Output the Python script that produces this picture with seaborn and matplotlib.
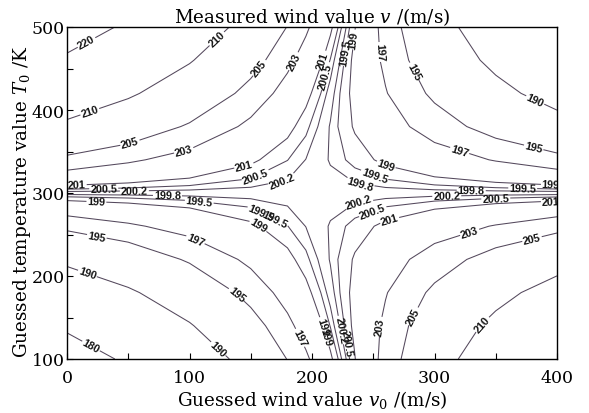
import numpy as np
import pandas as pd
import matplotlib
matplotlib.use("Agg")
import matplotlib.pyplot as plt
import seaborn as sns

# Guessed wind value v0 (m/s) -- grid columns
v0_grid = [0, 50, 100, 150, 180, 195, 215, 235, 260, 300, 350, 400]
# Guessed temperature T0 (K) -- grid rows
t0_grid = [100, 140, 180, 220, 260, 300, 340, 380, 420, 460, 500]

v_t100 = [175.82, 181.17, 186.52, 191.87, 195.08, 196.68, 198.82, 200.96, 203.64, 207.92, 213.27, 219.30]
v_t140 = [181.13, 185.41, 189.69, 193.97, 196.53, 197.82, 199.53, 201.24, 203.38, 206.81, 211.09, 215.37]
v_t180 = [186.20, 189.41, 192.62, 195.83, 197.75, 198.72, 200.00, 201.28, 202.89, 205.46, 208.67, 211.88]
v_t220 = [191.03, 193.17, 195.31, 197.45, 198.74, 199.38, 200.24, 201.09, 202.16, 203.87, 206.01, 208.15]
v_t260 = [195.63, 196.70, 197.77, 198.84, 199.49, 199.81, 200.24, 200.66, 201.20, 202.05, 203.12, 204.19]
v_t300 = [200.00, 200.00, 200.00, 200.00, 200.00, 200.00, 200.00, 200.00, 200.00, 200.00, 200.00, 200.00]
v_t340 = [204.37, 203.30, 202.23, 201.16, 200.51, 200.19, 199.76, 199.34, 198.80, 197.95, 196.88, 195.81]
v_t380 = [208.97, 206.83, 204.69, 202.55, 201.26, 200.62, 199.76, 198.91, 197.84, 196.13, 193.99, 191.85]
v_t420 = [213.80, 210.59, 207.38, 204.17, 202.25, 201.28, 200.00, 198.72, 197.11, 194.54, 191.33, 188.12]
v_t460 = [218.87, 214.59, 210.31, 206.03, 203.47, 202.18, 200.47, 198.76, 196.62, 193.19, 188.91, 184.63]
v_t500 = [224.18, 218.83, 213.48, 208.13, 204.92, 203.32, 201.18, 199.04, 196.36, 192.08, 186.73, 180.70]

levels = [180, 190, 195, 197, 199, 199.5, 199.8, 200.2, 200.5, 201, 203, 205, 210, 220]

x_ticks = [0, 100, 200, 300, 400]
y_ticks = [100, 200, 300, 400, 500]

# label anchor points (v0, T0)
label_points = [
    (19, 473), (126, 480), (20, 392), (156, 452), (53, 353), (186, 458), (96, 347),
    (211, 459), (145, 329), (155, 317), (175, 319),
    (8, 309.3), (30, 305.1), (55, 302.3), (82, 297.0), (108, 290.4), (24, 289.8),
    (213, 440),
    (172, 275), (157, 273), (155, 257), (104, 241),
    (24, 245), (16, 200), (135, 172), (122, 110), (19, 114), (188, 124),
    (211, 140), (208, 125),
    (239, 281), (251, 272), (264, 263), (329, 251), (380, 242), (255, 139), (282, 152),
    (340, 140), (224, 135), (231, 120),
    (395, 309.8), (395, 290.2), (372, 305.5), (350, 293.6), (330, 303.0), (310, 296.5),
    (260, 331), (250, 317), (239, 308), (319, 344), (380, 349), (380, 405), (257, 470),
    (279, 443), (228, 470), (234, 485),
]

rows = [v_t100, v_t140, v_t180, v_t220, v_t260, v_t300,
        v_t340, v_t380, v_t420, v_t460, v_t500]
field = pd.DataFrame(rows, index=t0_grid, columns=v0_grid)

sns.set_theme(style="white")
plt.rcParams['font.family'] = ['DejaVu Serif']
plt.rcParams['mathtext.fontset'] = 'dejavuserif'

line_color = '#54485c'

fig = plt.figure(figsize=(5.89, 4.14), dpi=100)
ax = fig.add_axes([67 / 589, 1 - 360 / 414, (557 - 67) / 589, (360 - 28) / 414])

X, Y = np.meshgrid(field.columns.values, field.index.values)
cs = ax.contour(X, Y, field.values, levels=levels, colors=line_color, linewidths=0.75)

with plt.rc_context({'font.family': ['Liberation Sans'], 'font.weight': 'bold'}):
    ax.clabel(cs, manual=label_points, fmt='%g', fontsize=7.8, inline=True,
              inline_spacing=1, colors='#151515')

ax.set_xlim(0, 400)
ax.set_ylim(100, 500)
ax.set_xticks(x_ticks)
ax.set_yticks(y_ticks)
ax.set_xticks([50, 150, 250, 350], minor=True)
ax.set_yticks([150, 250, 350, 450], minor=True)
ax.tick_params(which='both', direction='in', length=4, width=0.8, color='black',
               bottom=True, left=True, top=False, right=False)
ax.tick_params(which='major', labelsize=12.5, labelcolor='black')
ax.tick_params(axis='x', which='major', pad=7)
ax.tick_params(axis='y', which='major', pad=1.5)
for sp in ax.spines.values():
    sp.set_color('black')
    sp.set_linewidth(1.0)

ax.set_title(r'Measured wind value $v$ /(m/s)', fontsize=13.2, pad=3, color='black')
ax.set_xlabel(r'Guessed wind value $v_0$ /(m/s)', fontsize=13.2, labelpad=2, color='black')
ax.set_ylabel(r'Guessed temperature value $T_0$ /K', fontsize=13.2, color='black')
ax.yaxis.set_label_coords(-0.069, 0.476)

fig.savefig('out.png', dpi=100, facecolor='white')
